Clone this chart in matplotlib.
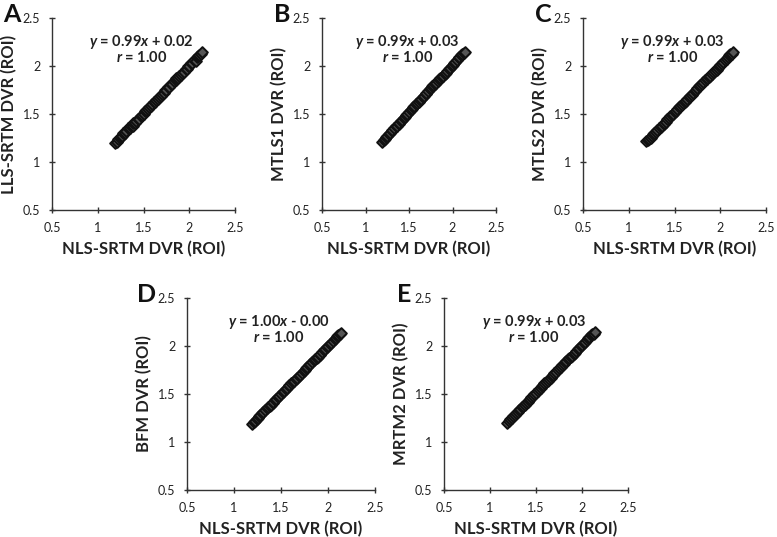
import matplotlib.pyplot as plt

plt.rcParams['font.family'] = ['Lato', 'DejaVu Sans']
plt.rcParams['mathtext.fontset'] = 'custom'
plt.rcParams['mathtext.it'] = 'Lato:bold:italic'
plt.rcParams['mathtext.rm'] = 'Lato:bold'

# NLS-SRTM DVR (ROI), shared x values
nls = [1.19, 1.21, 1.22, 1.24, 1.25, 1.27, 1.28, 1.30, 1.31, 1.33, 1.35, 1.36,
       1.38, 1.39, 1.41, 1.42, 1.44, 1.45, 1.47, 1.48, 1.50, 1.52, 1.53, 1.55,
       1.56, 1.58, 1.59, 1.61, 1.63, 1.64, 1.66, 1.67, 1.69, 1.70, 1.72, 1.74,
       1.75, 1.77, 1.78, 1.80, 1.81, 1.83, 1.85, 1.86, 1.88, 1.89, 1.91, 1.92,
       1.94, 1.96, 1.97, 1.99, 2.00, 2.02, 2.03, 2.05, 2.07, 2.08, 2.10, 2.11,
       2.13, 2.14]

lls = [1.20, 1.21, 1.24, 1.25, 1.26, 1.27, 1.30, 1.30, 1.32, 1.35, 1.35, 1.37,
       1.38, 1.41, 1.41, 1.43, 1.45, 1.45, 1.48, 1.49, 1.50, 1.53, 1.54, 1.55,
       1.57, 1.58, 1.60, 1.62, 1.63, 1.65, 1.66, 1.68, 1.69, 1.71, 1.72, 1.75,
       1.75, 1.78, 1.78, 1.81, 1.81, 1.84, 1.85, 1.87, 1.88, 1.90, 1.91, 1.93,
       1.94, 1.97, 1.97, 2.00, 2.00, 2.03, 2.03, 2.06, 2.05, 2.09, 2.10, 2.11,
       2.13, 2.15]

mtls1 = [1.21, 1.23, 1.24, 1.26, 1.27, 1.29, 1.30, 1.32, 1.33, 1.35, 1.37, 1.38,
         1.40, 1.41, 1.43, 1.44, 1.46, 1.47, 1.49, 1.50, 1.52, 1.54, 1.55, 1.57,
         1.58, 1.60, 1.61, 1.63, 1.65, 1.66, 1.68, 1.69, 1.71, 1.72, 1.74, 1.76,
         1.77, 1.79, 1.80, 1.81, 1.82, 1.84, 1.86, 1.87, 1.89, 1.90, 1.92, 1.93,
         1.95, 1.97, 1.98, 2.00, 2.01, 2.03, 2.04, 2.06, 2.08, 2.09, 2.11, 2.12,
         2.14, 2.15]

mtls2 = [1.22, 1.23, 1.24, 1.25, 1.27, 1.29, 1.30, 1.31, 1.33, 1.35, 1.36, 1.38,
         1.40, 1.41, 1.42, 1.45, 1.46, 1.48, 1.49, 1.50, 1.52, 1.53, 1.55, 1.57,
         1.58, 1.59, 1.61, 1.63, 1.64, 1.66, 1.68, 1.69, 1.70, 1.72, 1.74, 1.75,
         1.77, 1.79, 1.80, 1.81, 1.83, 1.85, 1.86, 1.88, 1.89, 1.90, 1.92, 1.94,
         1.95, 1.96, 1.98, 2.00, 2.01, 2.02, 2.04, 2.06, 2.07, 2.09, 2.11, 2.12,
         2.13, 2.15]

bfm = [1.19, 1.21, 1.22, 1.24, 1.25, 1.27, 1.28, 1.30, 1.31, 1.33, 1.35, 1.36,
       1.38, 1.39, 1.41, 1.42, 1.44, 1.45, 1.47, 1.48, 1.50, 1.52, 1.53, 1.55,
       1.56, 1.58, 1.59, 1.61, 1.63, 1.64, 1.66, 1.67, 1.69, 1.70, 1.72, 1.74,
       1.75, 1.77, 1.78, 1.80, 1.81, 1.83, 1.85, 1.86, 1.88, 1.89, 1.91, 1.92,
       1.94, 1.96, 1.97, 1.99, 2.00, 2.02, 2.03, 2.05, 2.07, 2.08, 2.10, 2.11,
       2.13, 2.14]

mrtm2 = [1.20, 1.22, 1.24, 1.25, 1.27, 1.28, 1.30, 1.31, 1.33, 1.34, 1.36, 1.38,
         1.39, 1.41, 1.42, 1.44, 1.45, 1.47, 1.48, 1.50, 1.51, 1.53, 1.55, 1.56,
         1.58, 1.59, 1.61, 1.62, 1.64, 1.66, 1.67, 1.69, 1.70, 1.72, 1.73, 1.75,
         1.77, 1.78, 1.80, 1.81, 1.83, 1.84, 1.86, 1.87, 1.89, 1.90, 1.92, 1.93,
         1.95, 1.97, 1.98, 2.00, 2.01, 2.03, 2.04, 2.06, 2.08, 2.09, 2.11, 2.12,
         2.13, 2.15]

letters = ['A', 'B', 'C', 'D', 'E']
ylabels = ['LLS-SRTM DVR (ROI)', 'MTLS1 DVR (ROI)', 'MTLS2 DVR (ROI)',
           'BFM DVR (ROI)', 'MRTM2 DVR (ROI)']
equations = [r'$y$ = 0.99$x$ + 0.02', r'$y$ = 0.99$x$ + 0.03', r'$y$ = 0.99$x$ + 0.03',
             r'$y$ = 1.00$x$ - 0.00', r'$y$ = 0.99$x$ + 0.03']
series = [lls, mtls1, mtls2, bfm, mrtm2]
ticks = [0.5, 1, 1.5, 2, 2.5]
tick_labels = ['0.5', '1', '1.5', '2', '2.5']

# axes boxes in pixels: left, top, right, bottom
boxes = [(52, 18, 235, 210), (322, 18, 496, 210), (583, 18, 766, 210),
         (187, 298, 375, 490), (444, 298, 628, 490)]
W, H = 777, 537

fig = plt.figure(figsize=(7.77, 5.37), dpi=100)
for i in range(5):
    l, t, r, b = boxes[i]
    ax = fig.add_axes([l / W, (H - b) / H, (r - l) / W, (b - t) / H])
    ax.scatter(nls, series[i], marker='D', s=30, facecolors='#555555',
               edgecolors='#111111', linewidths=1.4)
    ax.set_xlim(0.5, 2.5)
    ax.set_ylim(0.5, 2.5)
    ax.set_xticks(ticks)
    ax.set_yticks(ticks)
    ax.set_xticklabels(tick_labels)
    ax.set_yticklabels(tick_labels)
    ax.spines['top'].set_visible(False)
    ax.spines['right'].set_visible(False)
    for s in ['left', 'bottom']:
        ax.spines[s].set_color('#333333')
        ax.spines[s].set_linewidth(1.0)
    ax.tick_params(direction='inout', length=5, width=1, colors='#333333',
                   labelsize=9, labelcolor='#222222', pad=6)
    ax.set_xlabel('NLS-SRTM DVR (ROI)', fontsize=12, fontweight='bold',
                  color='#222222', labelpad=5)
    ax.set_ylabel(ylabels[i], fontsize=12, fontweight='bold',
                  color='#222222', labelpad=4)
    ax.text(1.48, 2.25, equations[i], fontsize=10.5, fontweight='bold',
            ha='center', va='center', color='#222222')
    ax.text(1.48, 2.09, r'$r$ = 1.00', fontsize=10.5, fontweight='bold',
            ha='center', va='center', color='#222222')
    fig.text((l - 40) / W, 1 - (t - 4) / H, letters[i], fontsize=18,
             fontweight='bold', ha='center', va='center', color='#111111')

fig.savefig('out.png', dpi=100)
